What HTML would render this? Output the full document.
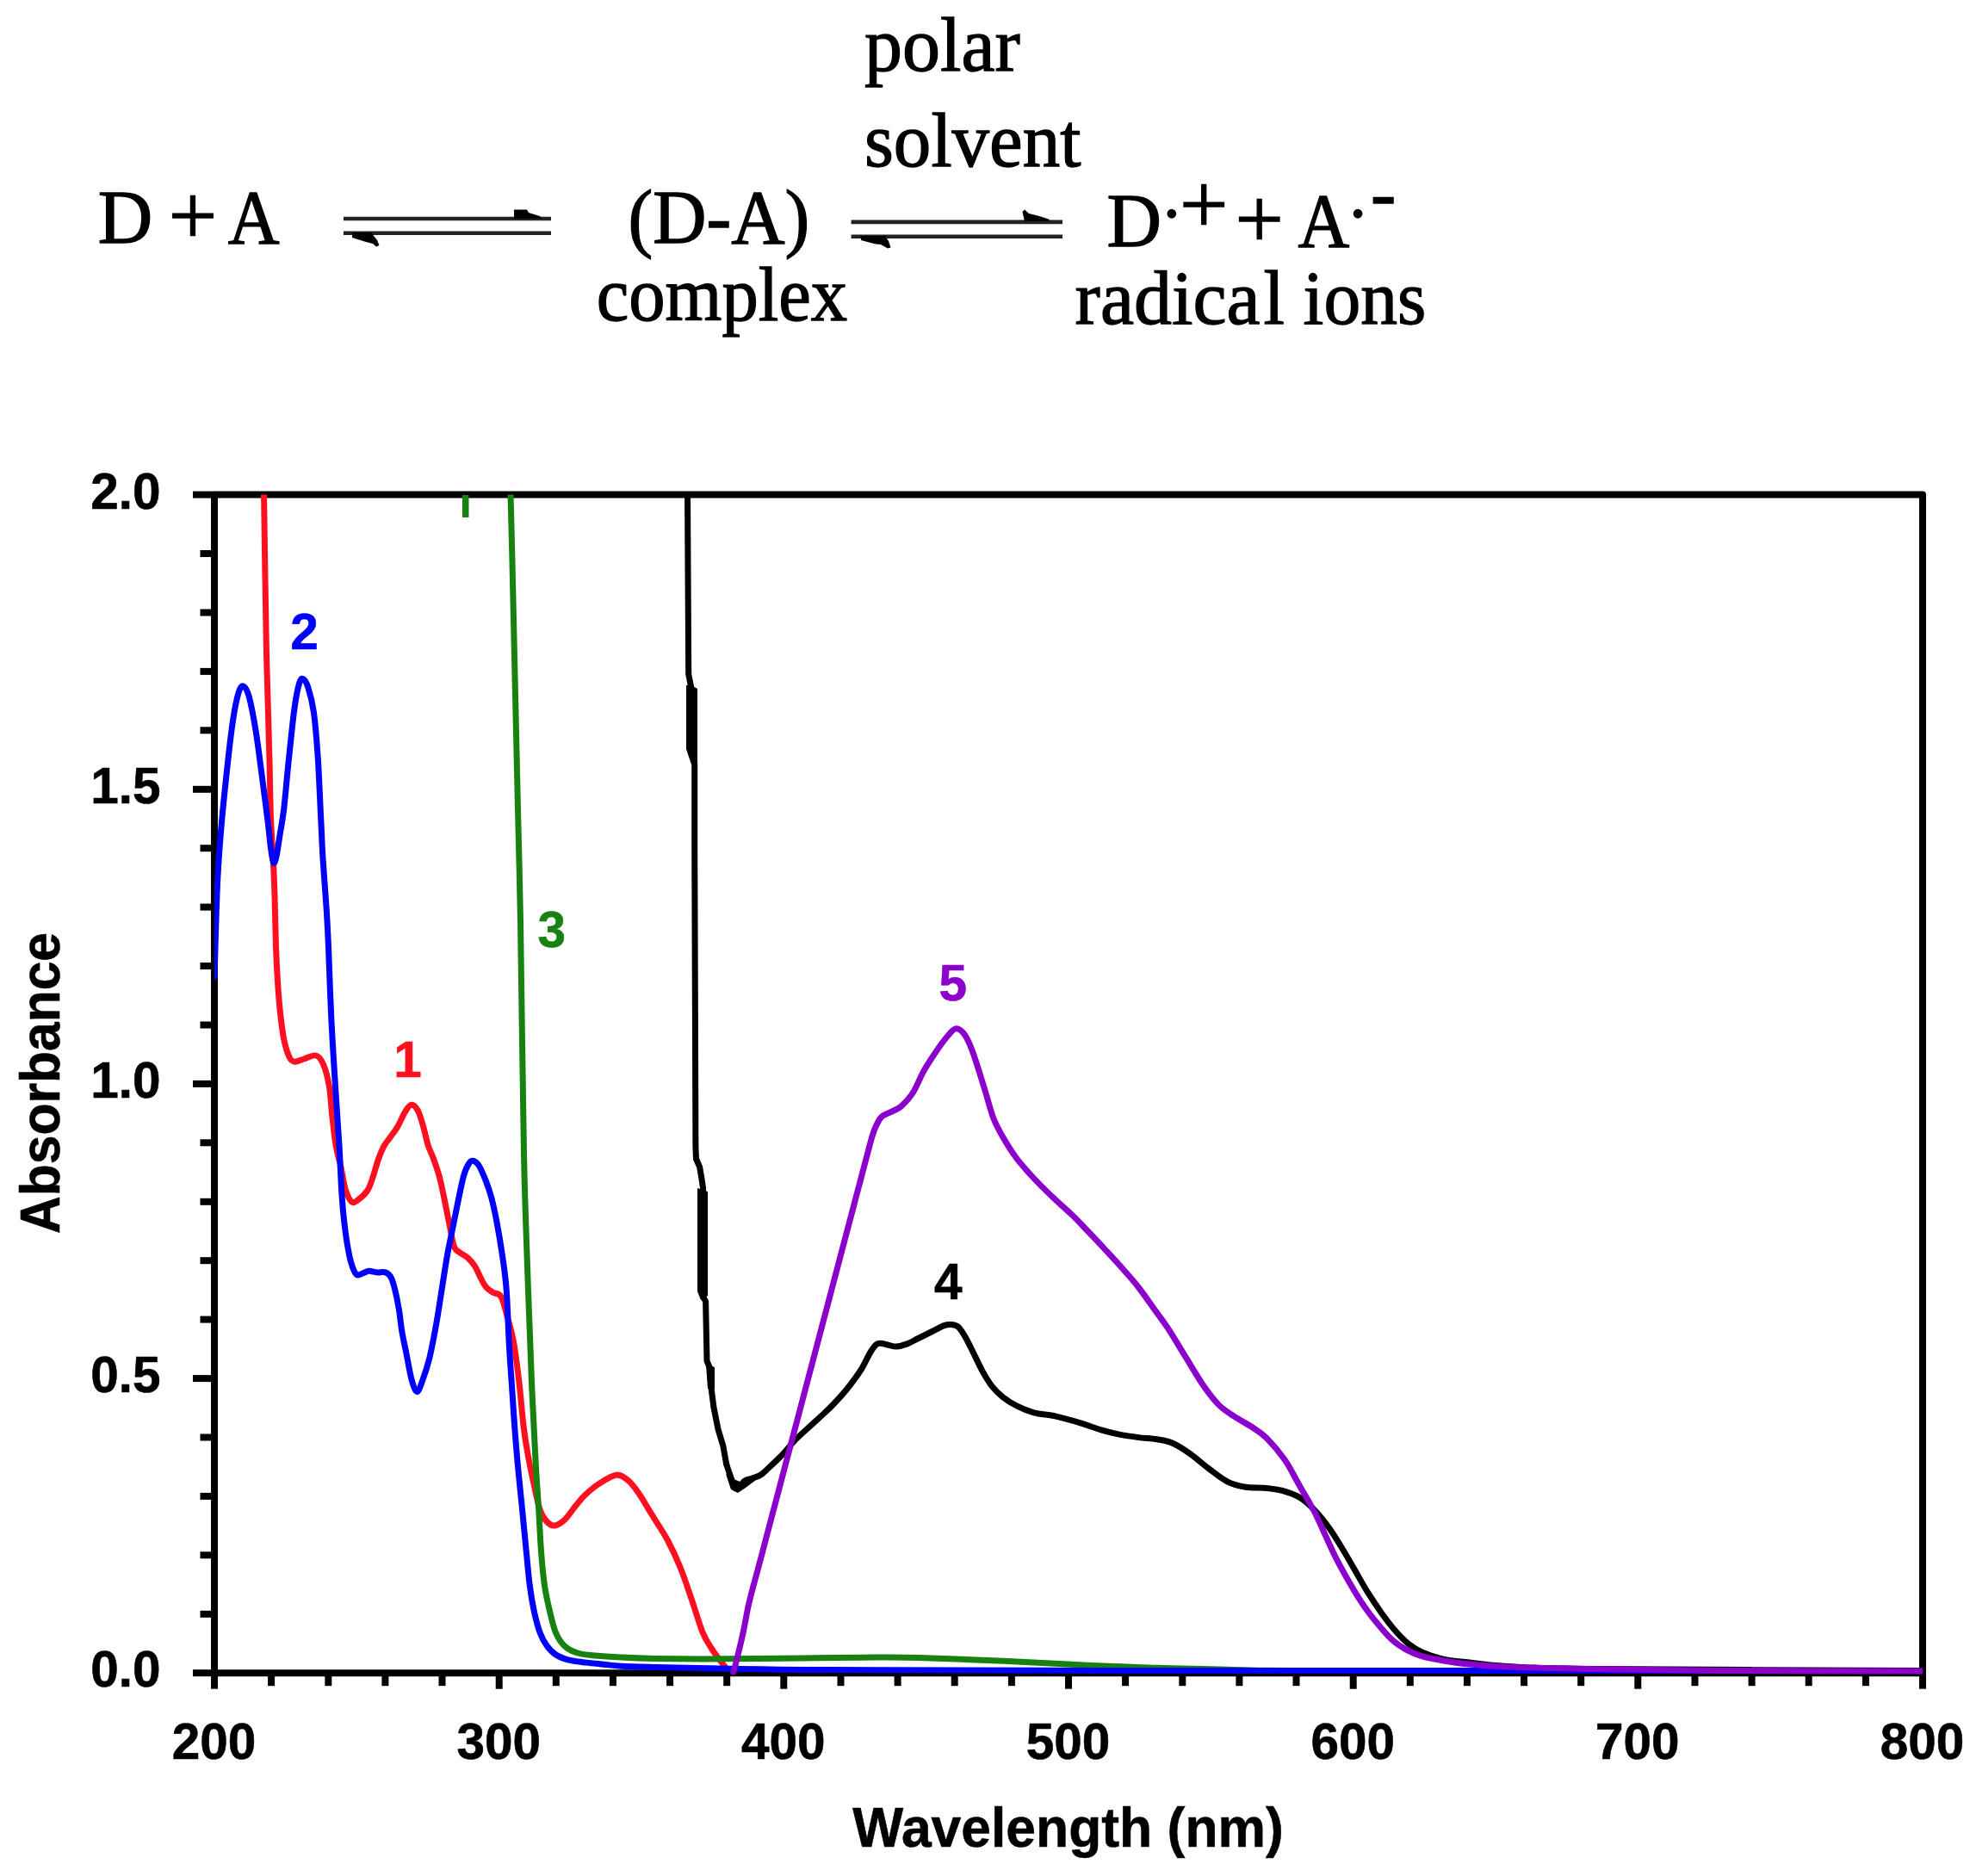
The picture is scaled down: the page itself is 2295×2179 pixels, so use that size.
<!DOCTYPE html>
<html><head><meta charset="utf-8"><title>Absorbance spectra</title>
<style>
html,body{margin:0;padding:0;background:#fff;overflow:hidden}
svg{display:block}
.s{font-family:"Liberation Serif","Times New Roman",serif;fill:#000;stroke:#000;stroke-width:1.3px}
.b{font-family:"Liberation Sans",Arial,sans-serif;font-weight:bold;stroke-width:0.6px}
</style></head><body>
<svg width="2295" height="2179" viewBox="0 0 2295 2179">
<rect width="2295" height="2179" fill="#fff"/>
<g class="s" font-size="88">
<text x="1004" y="81.5">polar</text>
<text x="1004" y="193" textLength="251.4" lengthAdjust="spacingAndGlyphs">solvent</text>
<text x="113.7" y="281.5">D</text>
<text x="264.8" y="281.5" textLength="59.9" lengthAdjust="spacingAndGlyphs">A</text>
<text x="729.5" y="281.5" textLength="210.8" lengthAdjust="spacingAndGlyphs">(D-A)</text>
<text x="692.7" y="371.6" textLength="291.4" lengthAdjust="spacingAndGlyphs">complex</text>
<text x="1285.6" y="285.8">D</text>
<text x="1507.5" y="285.8" textLength="59.8" lengthAdjust="spacingAndGlyphs">A</text>
<text x="1248.6" y="376">radica<tspan dx="4">l</tspan></text>
<text x="1513.6" y="376" textLength="142.7" lengthAdjust="spacingAndGlyphs">ions</text>
<text x="1592" y="254">-</text>
<text x="1347.4" y="275.4" font-size="80">&#183;</text>
<text x="1563.7" y="275.4" font-size="80">&#183;</text>
</g>
<g class="s" font-size="100">
<text x="195.7" y="283.6">+</text>
<text x="1434.5" y="287.5">+</text>
<text x="1370" y="271.1">+</text>
</g>
<line x1="399.0" y1="254.0" x2="640.0" y2="254.0" stroke="#222" stroke-width="4.6"/>
<line x1="399.0" y1="270.8" x2="640.0" y2="270.8" stroke="#222" stroke-width="4.6"/>
<path d="M597 254 L597 243.5 L612 243.5 L614 247 L627 251 L629 254 Z" fill="#000"/>
<path d="M409 270 L409 276 L425 281 L433 283 L437 286.5 L440.5 285 L438 279 L431 270 Z" fill="#000"/>
<line x1="988.6" y1="257.9" x2="1234.0" y2="257.9" stroke="#222" stroke-width="4.6"/>
<line x1="988.6" y1="274.7" x2="1234.0" y2="274.7" stroke="#222" stroke-width="4.6"/>
<path d="M1190 257 L1187.5 246 L1190 243.5 L1195 248 L1207 251 L1218 254.5 L1219 257 Z" fill="#000"/>
<path d="M999.5 274 L1000 279 L1015 283 L1023 284 L1031 288.5 L1034.5 287.5 L1032 280 L1028 274 Z" fill="#000"/>
<rect x="249.0" y="574.6" width="1984.0" height="1368.6" fill="none" stroke="#000" stroke-width="8" stroke-linejoin="round"/>
<line x1="224.0" y1="1943.2" x2="249.0" y2="1943.2" stroke="#000" stroke-width="8"/>
<line x1="232.5" y1="1874.8" x2="249.0" y2="1874.8" stroke="#000" stroke-width="8"/>
<line x1="232.5" y1="1806.3" x2="249.0" y2="1806.3" stroke="#000" stroke-width="8"/>
<line x1="232.5" y1="1737.9" x2="249.0" y2="1737.9" stroke="#000" stroke-width="8"/>
<line x1="232.5" y1="1669.5" x2="249.0" y2="1669.5" stroke="#000" stroke-width="8"/>
<line x1="224.0" y1="1601.1" x2="249.0" y2="1601.1" stroke="#000" stroke-width="8"/>
<line x1="232.5" y1="1532.6" x2="249.0" y2="1532.6" stroke="#000" stroke-width="8"/>
<line x1="232.5" y1="1464.2" x2="249.0" y2="1464.2" stroke="#000" stroke-width="8"/>
<line x1="232.5" y1="1395.8" x2="249.0" y2="1395.8" stroke="#000" stroke-width="8"/>
<line x1="232.5" y1="1327.3" x2="249.0" y2="1327.3" stroke="#000" stroke-width="8"/>
<line x1="224.0" y1="1258.9" x2="249.0" y2="1258.9" stroke="#000" stroke-width="8"/>
<line x1="232.5" y1="1190.5" x2="249.0" y2="1190.5" stroke="#000" stroke-width="8"/>
<line x1="232.5" y1="1122.0" x2="249.0" y2="1122.0" stroke="#000" stroke-width="8"/>
<line x1="232.5" y1="1053.6" x2="249.0" y2="1053.6" stroke="#000" stroke-width="8"/>
<line x1="232.5" y1="985.2" x2="249.0" y2="985.2" stroke="#000" stroke-width="8"/>
<line x1="224.0" y1="916.8" x2="249.0" y2="916.8" stroke="#000" stroke-width="8"/>
<line x1="232.5" y1="848.3" x2="249.0" y2="848.3" stroke="#000" stroke-width="8"/>
<line x1="232.5" y1="779.9" x2="249.0" y2="779.9" stroke="#000" stroke-width="8"/>
<line x1="232.5" y1="711.5" x2="249.0" y2="711.5" stroke="#000" stroke-width="8"/>
<line x1="232.5" y1="643.0" x2="249.0" y2="643.0" stroke="#000" stroke-width="8"/>
<line x1="224.0" y1="574.6" x2="249.0" y2="574.6" stroke="#000" stroke-width="8"/>
<line x1="249.0" y1="1943.2" x2="249.0" y2="1961.7" stroke="#000" stroke-width="8"/>
<line x1="315.1" y1="1943.2" x2="315.1" y2="1958.2" stroke="#000" stroke-width="8"/>
<line x1="381.3" y1="1943.2" x2="381.3" y2="1958.2" stroke="#000" stroke-width="8"/>
<line x1="447.4" y1="1943.2" x2="447.4" y2="1958.2" stroke="#000" stroke-width="8"/>
<line x1="513.5" y1="1943.2" x2="513.5" y2="1958.2" stroke="#000" stroke-width="8"/>
<line x1="579.7" y1="1943.2" x2="579.7" y2="1961.7" stroke="#000" stroke-width="8"/>
<line x1="645.8" y1="1943.2" x2="645.8" y2="1958.2" stroke="#000" stroke-width="8"/>
<line x1="711.9" y1="1943.2" x2="711.9" y2="1958.2" stroke="#000" stroke-width="8"/>
<line x1="778.1" y1="1943.2" x2="778.1" y2="1958.2" stroke="#000" stroke-width="8"/>
<line x1="844.2" y1="1943.2" x2="844.2" y2="1958.2" stroke="#000" stroke-width="8"/>
<line x1="910.3" y1="1943.2" x2="910.3" y2="1961.7" stroke="#000" stroke-width="8"/>
<line x1="976.5" y1="1943.2" x2="976.5" y2="1958.2" stroke="#000" stroke-width="8"/>
<line x1="1042.6" y1="1943.2" x2="1042.6" y2="1958.2" stroke="#000" stroke-width="8"/>
<line x1="1108.7" y1="1943.2" x2="1108.7" y2="1958.2" stroke="#000" stroke-width="8"/>
<line x1="1174.9" y1="1943.2" x2="1174.9" y2="1958.2" stroke="#000" stroke-width="8"/>
<line x1="1241.0" y1="1943.2" x2="1241.0" y2="1961.7" stroke="#000" stroke-width="8"/>
<line x1="1307.1" y1="1943.2" x2="1307.1" y2="1958.2" stroke="#000" stroke-width="8"/>
<line x1="1373.3" y1="1943.2" x2="1373.3" y2="1958.2" stroke="#000" stroke-width="8"/>
<line x1="1439.4" y1="1943.2" x2="1439.4" y2="1958.2" stroke="#000" stroke-width="8"/>
<line x1="1505.5" y1="1943.2" x2="1505.5" y2="1958.2" stroke="#000" stroke-width="8"/>
<line x1="1571.7" y1="1943.2" x2="1571.7" y2="1961.7" stroke="#000" stroke-width="8"/>
<line x1="1637.8" y1="1943.2" x2="1637.8" y2="1958.2" stroke="#000" stroke-width="8"/>
<line x1="1703.9" y1="1943.2" x2="1703.9" y2="1958.2" stroke="#000" stroke-width="8"/>
<line x1="1770.1" y1="1943.2" x2="1770.1" y2="1958.2" stroke="#000" stroke-width="8"/>
<line x1="1836.2" y1="1943.2" x2="1836.2" y2="1958.2" stroke="#000" stroke-width="8"/>
<line x1="1902.3" y1="1943.2" x2="1902.3" y2="1961.7" stroke="#000" stroke-width="8"/>
<line x1="1968.5" y1="1943.2" x2="1968.5" y2="1958.2" stroke="#000" stroke-width="8"/>
<line x1="2034.6" y1="1943.2" x2="2034.6" y2="1958.2" stroke="#000" stroke-width="8"/>
<line x1="2100.7" y1="1943.2" x2="2100.7" y2="1958.2" stroke="#000" stroke-width="8"/>
<line x1="2166.9" y1="1943.2" x2="2166.9" y2="1958.2" stroke="#000" stroke-width="8"/>
<line x1="2233.0" y1="1943.2" x2="2233.0" y2="1961.7" stroke="#000" stroke-width="8"/>
<defs><clipPath id="pc"><rect x="249.0" y="574.6" width="1984.0" height="1371.6"/></clipPath></defs>
<g clip-path="url(#pc)" fill="none" stroke-width="7.0" stroke-linejoin="round" stroke-linecap="round">
<path d="M306.5 570.0 C307.0 601.7 308.4 708.3 309.5 760.0 C310.6 811.7 312.1 848.3 312.9 880.0 C313.7 911.7 313.7 929.5 314.5 950.0 C315.3 970.5 316.8 988.0 317.5 1003.0 C318.2 1018.0 318.5 1023.8 319.0 1040.0 C319.5 1056.2 319.9 1083.3 320.5 1100.0 C321.1 1116.7 321.7 1127.6 322.5 1140.0 C323.3 1152.4 324.1 1163.4 325.3 1174.5 C326.5 1185.6 327.8 1197.6 329.6 1206.5 C331.4 1215.4 333.9 1223.3 336.0 1227.8 C338.1 1232.2 339.5 1232.8 342.3 1233.2 C345.1 1233.6 348.9 1231.2 353.0 1230.0 C357.1 1228.8 363.2 1224.9 367.0 1226.0 C370.8 1227.1 373.0 1230.4 375.6 1236.4 C378.2 1242.4 380.7 1252.1 382.4 1262.0 C384.1 1271.9 384.5 1284.7 385.8 1296.0 C387.1 1307.3 388.3 1320.0 390.0 1330.0 C391.7 1340.0 394.1 1347.2 396.0 1355.7 C397.9 1364.2 399.0 1374.5 401.1 1381.2 C403.2 1387.9 406.0 1394.0 408.5 1396.0 C411.0 1398.0 412.9 1395.7 416.0 1393.5 C419.1 1391.3 423.9 1387.2 426.8 1382.8 C429.7 1378.3 431.1 1372.9 433.2 1366.8 C435.3 1360.7 437.5 1352.0 439.6 1346.0 C441.7 1340.0 443.7 1335.2 446.0 1331.0 C448.3 1326.8 450.6 1324.7 453.2 1321.0 C455.8 1317.3 458.8 1313.8 461.7 1308.9 C464.6 1304.0 467.6 1296.1 470.3 1291.8 C473.0 1287.5 475.2 1283.6 477.7 1283.3 C480.2 1283.0 482.9 1285.6 485.2 1289.7 C487.5 1293.8 489.5 1301.3 491.5 1308.0 C493.5 1314.7 495.1 1323.7 497.1 1330.0 C499.1 1336.3 501.4 1340.1 503.5 1346.0 C505.6 1351.9 508.0 1358.5 509.9 1365.2 C511.8 1371.9 513.1 1378.5 514.7 1386.0 C516.3 1393.5 518.2 1403.2 519.5 1409.9 C520.8 1416.6 521.4 1419.5 522.7 1425.9 C524.0 1432.3 525.6 1443.5 527.5 1448.3 C529.4 1453.1 531.2 1452.6 533.9 1454.7 C536.6 1456.8 540.6 1458.4 543.5 1461.1 C546.4 1463.8 549.1 1467.0 551.5 1470.7 C553.9 1474.4 555.8 1479.5 557.9 1483.5 C560.0 1487.5 561.9 1491.8 564.3 1494.7 C566.7 1497.6 569.4 1499.2 572.3 1501.1 C575.2 1503.0 579.0 1501.4 581.8 1505.9 C584.5 1510.4 586.3 1519.0 588.8 1528.0 C591.3 1537.0 594.4 1546.7 596.8 1560.0 C599.2 1573.3 601.3 1592.0 603.2 1608.0 C605.1 1624.0 606.4 1642.7 608.0 1656.0 C609.6 1669.3 610.9 1677.3 612.8 1688.0 C614.7 1698.7 616.8 1709.0 619.2 1720.0 C621.6 1731.0 624.5 1746.1 627.2 1754.0 C629.9 1761.9 632.4 1764.5 635.2 1767.5 C638.0 1770.5 640.5 1772.4 644.0 1772.0 C647.5 1771.6 651.9 1768.9 656.0 1765.0 C660.1 1761.1 664.8 1753.6 668.8 1748.8 C672.8 1744.0 675.4 1740.3 680.0 1736.0 C684.6 1731.7 690.5 1726.7 696.5 1722.9 C702.5 1719.1 710.4 1714.0 715.7 1713.3 C721.0 1712.6 724.1 1715.2 728.4 1718.6 C732.6 1722.0 736.2 1726.4 741.2 1733.5 C746.2 1740.6 752.6 1752.0 758.3 1761.2 C764.0 1770.5 770.1 1779.0 775.4 1789.0 C780.7 1799.0 785.7 1809.6 790.3 1821.0 C794.9 1832.4 798.8 1844.8 803.1 1857.2 C807.4 1869.6 812.0 1886.0 815.9 1895.6 C819.8 1905.2 823.0 1909.1 826.5 1914.8 C830.0 1920.5 834.5 1926.0 837.2 1929.7 C840.0 1933.4 842.0 1935.8 843.0 1937.0" stroke="#ff1020"/>
<path d="M592.9 570.0 C593.2 581.7 593.3 578.3 594.7 640.0 C596.1 701.7 599.9 868.3 601.5 940.0 C603.1 1011.7 603.3 1003.3 604.5 1070.0 C605.7 1136.7 607.1 1271.7 608.5 1340.0 C609.9 1408.3 611.7 1446.0 612.8 1480.0 C613.9 1514.0 614.4 1522.7 615.2 1544.0 C616.0 1565.3 616.8 1589.3 617.6 1608.0 C618.4 1626.7 619.2 1640.0 620.0 1656.0 C620.8 1672.0 621.5 1688.0 622.4 1704.0 C623.3 1720.0 624.6 1735.9 625.6 1752.0 C626.6 1768.1 627.3 1785.7 628.4 1800.5 C629.5 1815.3 630.7 1829.2 632.4 1841.0 C634.1 1852.8 636.3 1862.1 638.5 1871.4 C640.7 1880.7 642.7 1890.0 645.6 1896.7 C648.5 1903.5 651.5 1908.0 655.7 1911.9 C659.9 1915.8 665.0 1918.2 670.9 1920.0 C676.8 1921.8 682.7 1922.2 691.1 1923.0 C699.5 1923.8 710.0 1924.5 721.5 1925.1 C733.0 1925.7 744.3 1926.2 760.0 1926.5 C775.7 1926.8 795.9 1927.0 815.9 1927.0 C835.9 1927.0 860.3 1926.7 879.8 1926.5 C899.3 1926.3 918.5 1926.2 933.0 1926.0 C947.5 1925.8 950.0 1925.7 966.8 1925.5 C983.6 1925.3 1016.9 1925.0 1033.6 1925.0 C1050.3 1925.0 1050.3 1925.0 1067.0 1925.5 C1083.7 1926.0 1111.5 1927.1 1133.8 1928.0 C1156.1 1928.9 1178.3 1929.9 1200.6 1931.0 C1222.9 1932.1 1245.1 1933.5 1267.4 1934.5 C1289.7 1935.5 1306.4 1936.2 1334.2 1937.0 C1362.0 1937.8 1396.8 1938.9 1434.4 1939.5 C1472.0 1940.1 1426.9 1940.3 1560.0 1940.5 C1693.1 1940.7 2120.8 1940.5 2233.0 1940.5" stroke="#17820f"/>
<path d="M249.0 1135.0 C249.6 1117.3 251.1 1057.7 252.4 1028.8 C253.7 999.9 255.0 984.0 256.9 961.6 C258.8 939.2 261.4 914.9 263.6 894.4 C265.8 873.9 268.1 853.3 270.3 838.4 C272.5 823.5 274.9 811.7 277.0 804.8 C279.1 797.9 280.6 796.2 282.6 797.0 C284.7 797.8 286.9 800.5 289.3 809.3 C291.7 818.1 294.8 834.7 297.2 849.6 C299.6 864.5 301.7 882.1 303.9 898.9 C306.1 915.7 308.8 936.0 310.6 950.4 C312.4 964.8 313.3 976.4 314.5 985.0 C315.7 993.6 316.5 1000.3 317.6 1002.0 C318.7 1003.7 319.8 1000.3 321.0 995.0 C322.2 989.7 323.6 979.2 325.0 970.0 C326.4 960.8 328.0 954.5 329.7 940.0 C331.4 925.5 333.2 902.8 335.3 883.2 C337.4 863.7 339.9 837.6 342.0 822.7 C344.1 807.8 345.9 799.3 347.6 793.6 C349.3 787.9 350.3 787.8 352.0 788.5 C353.7 789.2 355.6 791.6 357.7 798.1 C359.8 804.6 362.5 813.6 364.4 827.2 C366.3 840.9 367.8 859.5 369.2 880.0 C370.6 900.5 371.7 930.9 372.7 950.4 C373.7 969.9 373.9 979.4 375.0 997.0 C376.1 1014.6 378.1 1038.8 379.2 1056.0 C380.3 1073.2 380.6 1078.5 381.5 1100.0 C382.4 1121.5 383.5 1156.7 384.9 1185.0 C386.3 1213.3 388.5 1245.8 390.0 1270.0 C391.5 1294.2 392.9 1312.0 394.0 1330.0 C395.1 1348.0 395.6 1364.7 396.4 1378.0 C397.2 1391.3 397.7 1399.3 398.8 1410.0 C399.9 1420.7 401.3 1432.7 402.8 1442.0 C404.3 1451.3 405.7 1459.5 407.6 1465.9 C409.5 1472.3 411.6 1478.2 414.0 1480.3 C416.4 1482.4 419.6 1479.4 422.0 1478.7 C424.4 1478.0 425.7 1476.4 428.4 1476.3 C431.1 1476.2 434.8 1477.6 438.0 1477.9 C441.2 1478.2 444.9 1477.0 447.6 1477.9 C450.3 1478.8 452.1 1480.2 454.0 1483.5 C455.9 1486.8 457.1 1491.5 458.7 1497.9 C460.3 1504.3 462.2 1513.8 463.5 1521.8 C464.8 1529.8 465.4 1537.8 466.7 1545.8 C468.0 1553.8 469.6 1560.5 471.5 1569.8 C473.4 1579.1 475.8 1594.0 477.9 1601.8 C480.0 1609.6 482.2 1616.2 484.3 1616.5 C486.4 1616.8 488.3 1609.9 490.7 1603.4 C493.1 1597.0 496.0 1588.7 498.7 1577.8 C501.4 1566.9 504.3 1551.1 506.7 1537.8 C509.1 1524.5 511.0 1511.2 513.1 1497.9 C515.2 1484.6 517.4 1469.9 519.5 1457.9 C521.6 1445.9 523.8 1436.6 525.9 1425.9 C528.0 1415.2 530.2 1404.1 532.3 1394.0 C534.4 1383.9 536.6 1372.4 538.7 1365.2 C540.8 1358.0 543.2 1353.6 545.1 1350.8 C547.0 1348.0 548.0 1347.9 549.9 1348.4 C551.8 1348.9 553.9 1350.1 556.3 1354.0 C558.7 1357.9 561.9 1365.5 564.3 1371.6 C566.7 1377.7 568.6 1382.8 570.7 1390.8 C572.8 1398.8 574.9 1408.3 577.0 1419.5 C579.1 1430.7 581.5 1444.8 583.4 1457.9 C585.3 1471.0 586.9 1480.9 588.2 1497.9 C589.5 1514.9 590.2 1541.7 591.2 1560.0 C592.2 1578.3 593.3 1592.0 594.4 1608.0 C595.5 1624.0 596.4 1640.0 597.6 1656.0 C598.8 1672.0 600.1 1688.0 601.6 1704.0 C603.1 1720.0 604.8 1735.9 606.4 1752.0 C608.0 1768.1 609.6 1785.7 611.1 1800.5 C612.6 1815.3 613.7 1829.2 615.2 1841.0 C616.7 1852.8 618.3 1862.1 620.3 1871.4 C622.3 1880.7 624.8 1890.0 627.3 1896.7 C629.8 1903.5 632.3 1907.7 635.4 1911.9 C638.5 1916.1 641.4 1919.3 645.6 1922.0 C649.8 1924.7 654.9 1926.6 660.8 1928.1 C666.7 1929.6 674.2 1930.2 681.0 1931.1 C687.8 1931.9 694.5 1932.5 701.3 1933.2 C708.0 1933.9 711.7 1934.7 721.5 1935.2 C731.3 1935.8 740.7 1936.0 760.0 1936.5 C779.3 1937.0 803.9 1937.5 837.2 1938.0 C870.5 1938.5 882.9 1939.1 960.0 1939.5 C1037.1 1939.9 1176.7 1940.3 1300.0 1940.5 C1423.3 1940.7 1544.5 1940.5 1700.0 1940.5 C1855.5 1940.5 2144.2 1940.5 2233.0 1940.5" stroke="#0000ff"/>
<path d="M798.5 570.0 L799.7 782.8 L803.0 800.0 L805.0 850.0 L806.7 888.0 L806.7 980.0 L807.9 1331.9 L808.5 1346.0 L812.6 1355.3 L815.0 1369.4 L816.5 1380.0 L816.1 1440.0 L817.0 1507.0 L819.6 1511.6 L821.0 1580.9 L825.0 1590.0 L826.0 1612.0 L829.0 1635.0 L834.0 1660.0 L840.0 1680.0 L843.5 1700.0" stroke="#000"/>
<path d="M843.5 1700.0 C844.2 1702.0 845.6 1707.2 847.5 1712.0 C849.4 1716.8 852.1 1727.7 855.0 1729.0 C857.9 1730.3 861.8 1722.0 865.0 1720.0 C868.2 1718.0 870.9 1718.2 874.0 1717.0 C877.1 1715.8 880.7 1714.9 883.7 1713.0 C886.7 1711.1 887.9 1709.5 892.2 1705.5 C896.5 1701.5 904.2 1694.3 909.3 1689.0 C914.4 1683.7 917.6 1678.7 922.6 1673.5 C927.6 1668.3 933.7 1663.1 939.2 1658.0 C944.7 1652.9 950.9 1647.5 955.7 1643.0 C960.5 1638.5 963.3 1636.0 968.0 1631.0 C972.7 1626.0 978.7 1619.7 984.0 1613.0 C989.3 1606.3 995.4 1598.2 1000.0 1591.0 C1004.6 1583.8 1008.3 1574.6 1011.6 1569.5 C1014.9 1564.4 1016.6 1561.7 1020.0 1560.5 C1023.4 1559.3 1028.5 1561.8 1032.0 1562.4 C1035.5 1563.0 1037.4 1564.3 1041.0 1564.1 C1044.6 1563.8 1049.5 1562.5 1053.8 1560.9 C1058.1 1559.3 1061.6 1557.0 1066.6 1554.5 C1071.6 1552.0 1078.7 1548.5 1083.7 1546.0 C1088.7 1543.5 1093.0 1540.8 1096.5 1539.6 C1100.0 1538.3 1102.2 1538.2 1105.0 1538.5 C1107.8 1538.8 1110.7 1539.0 1113.5 1541.7 C1116.3 1544.4 1119.2 1549.5 1122.0 1554.5 C1124.8 1559.5 1127.4 1565.1 1130.6 1571.5 C1133.8 1577.9 1137.7 1586.5 1141.2 1592.9 C1144.8 1599.3 1148.0 1604.9 1151.9 1609.9 C1155.8 1614.9 1159.7 1618.8 1164.7 1622.7 C1169.7 1626.6 1175.7 1630.4 1181.7 1633.4 C1187.7 1636.4 1193.4 1638.8 1200.9 1640.8 C1208.4 1642.8 1217.6 1643.1 1226.5 1645.1 C1235.4 1647.1 1245.3 1649.9 1254.2 1652.6 C1263.1 1655.3 1272.0 1658.8 1279.8 1661.1 C1287.6 1663.4 1294.1 1665.0 1301.2 1666.4 C1308.3 1667.8 1315.4 1668.7 1322.5 1669.6 C1329.6 1670.5 1337.3 1670.6 1343.8 1671.7 C1350.3 1672.8 1354.8 1673.2 1361.3 1676.0 C1367.8 1678.8 1375.5 1683.8 1382.6 1688.8 C1389.7 1693.8 1396.9 1700.6 1404.0 1705.9 C1411.1 1711.2 1418.2 1717.2 1425.3 1720.8 C1432.4 1724.3 1439.5 1726.0 1446.6 1727.2 C1453.7 1728.4 1460.8 1727.5 1467.9 1728.2 C1475.0 1728.9 1482.2 1729.4 1489.3 1731.4 C1496.4 1733.4 1504.2 1736.1 1510.6 1740.0 C1517.0 1743.9 1521.9 1748.9 1527.6 1754.9 C1533.3 1760.9 1539.4 1768.7 1544.7 1776.2 C1550.0 1783.7 1554.6 1791.5 1559.6 1799.7 C1564.6 1807.9 1569.8 1817.1 1574.5 1825.3 C1579.2 1833.5 1583.1 1840.8 1588.0 1848.7 C1592.9 1856.6 1598.7 1865.2 1604.0 1872.7 C1609.3 1880.2 1614.7 1887.4 1620.0 1893.5 C1625.3 1899.6 1630.7 1905.2 1636.0 1909.5 C1641.3 1913.8 1645.3 1916.2 1652.0 1919.1 C1658.7 1922.0 1668.0 1925.2 1676.0 1927.1 C1684.0 1929.0 1687.7 1928.9 1700.0 1930.3 C1712.3 1931.7 1725.0 1934.1 1750.0 1935.5 C1775.0 1936.9 1769.5 1937.7 1850.0 1938.5 C1930.5 1939.3 2169.2 1940.2 2233.0 1940.5" stroke="#000"/>
<path d="M797 796 L803 796 L810 800 L810 884 L803 888 L797 870 Z" fill="#000" stroke="none"/>
<path d="M810 1380 L822 1384 L822 1505 L814 1510 L810 1500 Z" fill="#000" stroke="none"/>
<path d="M820 1585 L830 1588 L830 1613 L822 1613 Z" fill="#000" stroke="none"/>
<path d="M843 1712 L852 1718 L862 1722 L872 1716 L878 1713 L878 1719 L866 1728 L857 1734 L849 1730 Z" fill="#000" stroke="none"/>
<path d="M851.6 1942.0 C852.1 1940.2 853.0 1938.5 854.9 1930.9 C856.8 1923.3 860.6 1907.7 863.1 1896.2 C865.6 1884.7 867.1 1874.1 869.9 1862.0 C872.7 1849.9 876.6 1836.4 880.0 1823.7 C883.4 1811.0 886.7 1798.5 890.0 1785.8 C893.3 1773.1 896.7 1760.4 900.0 1747.8 C903.3 1735.2 906.7 1722.5 910.0 1709.9 C913.3 1697.3 916.7 1684.6 920.0 1672.0 C923.3 1659.4 926.7 1646.8 930.0 1634.1 C933.3 1621.4 936.7 1608.8 940.0 1596.1 C943.3 1583.4 946.7 1570.8 950.0 1558.2 C953.3 1545.6 956.7 1532.9 960.0 1520.3 C963.3 1507.7 966.7 1495.1 970.0 1482.4 C973.3 1469.8 976.7 1457.1 980.0 1444.4 C983.3 1431.8 986.7 1419.1 990.0 1406.5 C993.3 1393.9 996.4 1382.2 1000.0 1368.6 C1003.6 1354.9 1008.9 1334.4 1011.6 1324.6 C1014.4 1314.8 1014.4 1314.6 1016.5 1310.0 C1018.6 1305.4 1020.6 1300.3 1024.0 1297.1 C1027.4 1293.9 1032.9 1292.8 1036.8 1290.7 C1040.7 1288.6 1043.5 1287.8 1047.4 1284.3 C1051.3 1280.8 1055.9 1276.2 1060.2 1269.4 C1064.5 1262.7 1068.4 1252.0 1073.0 1243.8 C1077.6 1235.6 1083.3 1227.2 1087.9 1220.4 C1092.5 1213.7 1097.0 1207.6 1100.7 1203.3 C1104.4 1199.0 1107.1 1195.1 1110.3 1194.8 C1113.5 1194.5 1116.9 1197.3 1119.9 1201.2 C1122.9 1205.1 1125.6 1211.1 1128.4 1218.2 C1131.2 1225.3 1134.2 1234.9 1137.0 1243.8 C1139.8 1252.7 1142.7 1262.2 1145.5 1271.5 C1148.3 1280.8 1150.8 1291.1 1154.0 1299.3 C1157.2 1307.5 1160.4 1313.1 1164.7 1320.6 C1169.0 1328.1 1174.2 1336.7 1180.0 1344.5 C1185.8 1352.3 1192.7 1359.9 1199.7 1367.5 C1206.7 1375.1 1214.6 1382.8 1222.1 1390.0 C1229.6 1397.2 1237.8 1404.1 1244.5 1410.5 C1251.2 1416.9 1255.8 1422.0 1262.0 1428.5 C1268.2 1435.0 1274.8 1441.9 1281.8 1449.5 C1288.8 1457.1 1297.5 1466.4 1304.2 1474.0 C1310.9 1481.6 1315.9 1487.0 1322.1 1495.0 C1328.3 1503.0 1335.8 1513.8 1341.5 1521.8 C1347.2 1529.8 1350.5 1533.6 1356.4 1542.7 C1362.4 1551.8 1370.2 1565.1 1377.2 1576.4 C1384.2 1587.7 1392.1 1601.3 1398.5 1610.6 C1404.9 1619.8 1409.9 1626.2 1415.6 1631.9 C1421.3 1637.6 1426.2 1640.4 1432.6 1644.7 C1439.0 1649.0 1447.6 1653.2 1454.0 1657.5 C1460.4 1661.8 1464.6 1663.9 1471.0 1670.3 C1477.4 1676.7 1485.9 1686.6 1492.3 1695.8 C1498.7 1705.0 1503.7 1715.8 1509.4 1725.7 C1515.1 1735.7 1521.3 1745.7 1526.4 1755.5 C1531.5 1765.3 1535.6 1775.3 1540.0 1784.7 C1544.4 1794.1 1548.0 1802.6 1552.8 1811.9 C1557.6 1821.2 1563.5 1831.6 1568.8 1840.7 C1574.1 1849.8 1579.5 1858.6 1584.8 1866.3 C1590.1 1874.0 1595.5 1880.7 1600.8 1887.1 C1606.1 1893.5 1611.5 1899.9 1616.8 1904.7 C1622.1 1909.5 1626.9 1912.7 1632.8 1915.9 C1638.7 1919.1 1644.8 1921.8 1652.0 1923.9 C1659.2 1926.0 1668.0 1927.3 1676.0 1928.7 C1684.0 1930.1 1688.0 1931.3 1700.0 1932.5 C1712.0 1933.7 1724.6 1935.0 1747.9 1936.0 C1771.2 1937.0 1798.0 1937.8 1840.0 1938.5 C1882.0 1939.2 1934.5 1940.1 2000.0 1940.5 C2065.5 1940.9 2194.2 1940.9 2233.0 1941.0" stroke="#8b00cc"/>
</g>
<rect x="537" y="575" width="7.5" height="26" fill="#17820f"/>
<g class="b" font-size="58.5" fill="#000" stroke="#000">
<text x="186.5" y="1959.4" text-anchor="end">0.0</text>
<text x="186.5" y="1617.3" text-anchor="end">0.5</text>
<text x="186.5" y="1275.1" text-anchor="end">1.0</text>
<text x="186.5" y="933.0" text-anchor="end">1.5</text>
<text x="186.5" y="590.8" text-anchor="end">2.0</text>
<text x="248.5" y="2042.8" text-anchor="middle">200</text>
<text x="579.2" y="2042.8" text-anchor="middle">300</text>
<text x="909.8" y="2042.8" text-anchor="middle">400</text>
<text x="1240.5" y="2042.8" text-anchor="middle">500</text>
<text x="1571.2" y="2042.8" text-anchor="middle">600</text>
<text x="1901.8" y="2042.8" text-anchor="middle">700</text>
<text x="2232.5" y="2042.8" text-anchor="middle">800</text>
</g>
<text class="b" stroke="#000" font-size="65" x="990.3" y="2145.3" textLength="500.5" lengthAdjust="spacingAndGlyphs">Wavelength (nm)</text>
<text class="b" stroke="#000" font-size="64" transform="translate(68.5 1433) rotate(-90)" x="0" y="0" textLength="350" lengthAdjust="spacingAndGlyphs">Absorbance</text>
<g class="b" font-size="58.5">
<text x="337.3" y="753.5" fill="#0000ff" stroke="#00f">2</text>
<text x="457.3" y="1251.3" fill="#ff1020" stroke="#ff1020">1</text>
<text x="624.6" y="1099.5" fill="#17820f" stroke="#17820f">3</text>
<text x="1085" y="1509.3" fill="#000" stroke="#000">4</text>
<text x="1090.6" y="1162.3" fill="#8b00cc" stroke="#8b00cc">5</text>
</g>
</svg>
</body></html>
